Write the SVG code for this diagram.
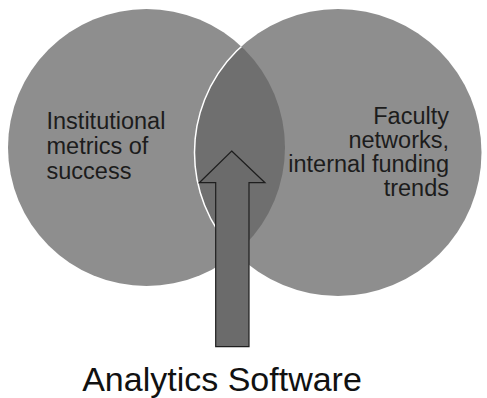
<svg xmlns="http://www.w3.org/2000/svg" width="487" height="398" viewBox="0 0 487 398">
  <style>
    .set { fill: #8e8e8e; }
    .overlap { fill: #6f6f6f; }
    .rim { fill: none; stroke: #ffffff; stroke-width: 1.5; }
    .label { font-family: "Liberation Sans", Arial, sans-serif; font-size: 23.5px; fill: #1c1c1c; }
    .title { font-family: "Liberation Sans", Arial, sans-serif; font-size: 34px; fill: #111111; }
    .arrow { fill: #6b6b6b; stroke: #1e1e1e; stroke-width: 1.2; stroke-linejoin: miter; }
  </style>
  <defs>
    <clipPath id="leftClip">
      <circle cx="146.5" cy="147.5" r="138.5"/>
    </clipPath>
  </defs>

  <rect width="487" height="398" fill="#ffffff"/>

  <!-- Left set -->
  <g id="node-institutional">
    <circle class="set" cx="146.5" cy="147.5" r="138.5"/>
  </g>

  <!-- Right set, with its overlap shaded darker -->
  <g id="node-faculty">
    <circle class="set" cx="338" cy="152.5" r="143.5"/>
    <circle class="overlap" cx="338" cy="152.5" r="143.5" clip-path="url(#leftClip)"/>
    <circle class="rim" cx="338" cy="152.5" r="143.5" clip-path="url(#leftClip)"/>
  </g>

  <g id="label-institutional">
    <text class="label" x="46.5" y="128.5">Institutional</text>
    <text class="label" x="46.5" y="153.5">metrics of</text>
    <text class="label" x="46.5" y="178.5">success</text>
  </g>

  <g id="label-faculty" text-anchor="end">
    <text class="label" x="449" y="123.5">Faculty</text>
    <text class="label" x="449" y="147.5">networks,</text>
    <text class="label" x="449" y="171.8">internal funding</text>
    <text class="label" x="449" y="196">trends</text>
  </g>

  <!-- Block arrow from the software label into the overlap -->
  <g id="connectors">
    <polygon class="arrow" points="231.7,151 265,182.7 249,182.7 249,346.7 215.7,346.7 215.7,182.7 199.3,182.7"/>
  </g>

  <g id="node-analytics">
    <text class="title" x="222" y="391" text-anchor="middle">Analytics Software</text>
  </g>
</svg>
